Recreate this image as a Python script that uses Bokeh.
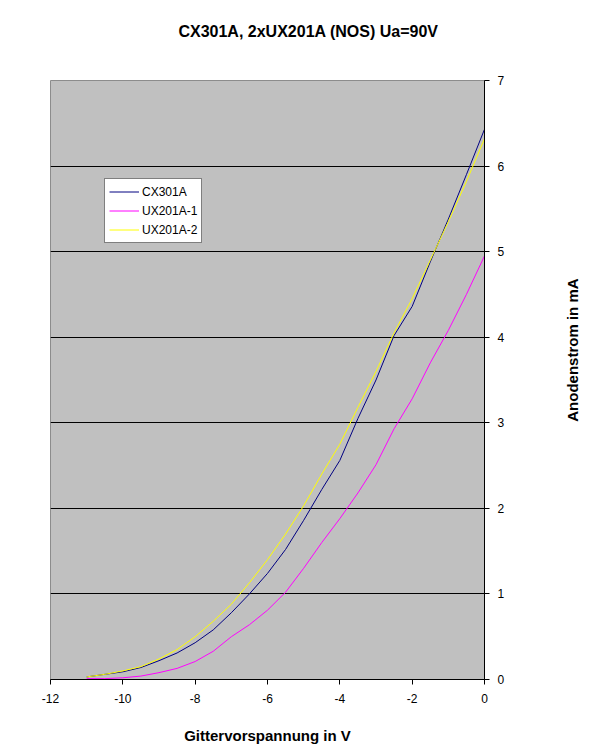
import math
from bokeh.plotting import figure
from bokeh.models import FixedTicker, Legend, LegendItem, Range1d
from bokeh.core.properties import value
from bokeh.layouts import column, row
from bokeh.embed import file_html
from bokeh.resources import INLINE

# ---- data ----
grid_v = [-11, -10.5, -10, -9.5, -9, -8.5, -8, -7.5, -7, -6.5, -6, -5.5,
          -5, -4.5, -4, -3.5, -3, -2.5, -2, -1.5, -1, -0.5, 0]
cx301a = [0.03, 0.06, 0.09, 0.14, 0.22, 0.31, 0.43, 0.58, 0.78, 1.00, 1.24, 1.52,
          1.86, 2.22, 2.56, 3.05, 3.50, 4.02, 4.36, 4.88, 5.38, 5.90, 6.43]
ux201a_1 = [0.01, 0.01, 0.02, 0.04, 0.08, 0.13, 0.21, 0.33, 0.50, 0.64, 0.81, 1.02,
            1.30, 1.60, 1.88, 2.18, 2.51, 2.93, 3.28, 3.70, 4.08, 4.50, 4.95]
ux201a_2 = [0.03, 0.06, 0.10, 0.15, 0.24, 0.35, 0.50, 0.68, 0.88, 1.13, 1.40, 1.70,
            2.03, 2.40, 2.75, 3.18, 3.60, 4.05, 4.45, 4.90, 5.35, 5.82, 6.32]
series_names = ["CX301A", "UX201A-1", "UX201A-2"]
series_colors = ["#000080", "#FF00FF", "#FFFF00"]

x_ticks = [-12, -10, -8, -6, -4, -2, 0]
x_tick_labels = ["-12", "-10", "-8", "-6", "-4", "-2", "0"]
y_ticks = [0, 1, 2, 3, 4, 5, 6, 7]
y_grid_ticks = [1, 2, 3, 4, 5, 6]

title_text = "CX301A, 2xUX201A (NOS) Ua=90V"
x_label_text = "Gittervorspannung in V"
y_label_text = "Anodenstrom in mA"

FONT = "Liberation Sans"

TITLE_H = 62
MAIN_W, MAIN_H = 524, 682
SIDE_W = 86


def text_panel(w, h):
    f = figure(width=w, height=h, min_border=0, x_range=Range1d(0, w), y_range=Range1d(0, h),
               x_axis_type=None, y_axis_type=None, title=None,
               output_backend="svg", toolbar_location=None)
    f.outline_line_color = None
    f.background_fill_color = "white"
    f.border_fill_color = "white"
    f.grid.visible = False
    return f


# ---- title strip ----
tp = text_panel(610, TITLE_H)
tp.text(x=[308], y=[TITLE_H - 31], text=[title_text], text_font=value(FONT),
        text_font_size="16px", text_font_style="bold", text_color="black",
        text_align="center", text_baseline="middle")

# ---- main chart ----
p = figure(frame_width=434, frame_height=599,
           min_border_left=50, min_border_right=MAIN_W - 50 - 434,
           min_border_top=80 - TITLE_H, min_border_bottom=MAIN_H - (80 - TITLE_H) - 599,
           x_range=Range1d(-12, 0), y_range=Range1d(0, 7),
           y_axis_location="right", title=None,
           output_backend="svg", toolbar_location=None)

p.background_fill_color = "#C0C0C0"
p.border_fill_color = "white"
p.outline_line_color = "#8C8C8C"
p.outline_line_width = 1

xa = p.xaxis[0]
xa.ticker = FixedTicker(ticks=x_ticks)
xa.major_label_overrides = {t: l for t, l in zip(x_ticks, x_tick_labels)}
ya = p.yaxis[0]
ya.ticker = FixedTicker(ticks=y_ticks)
for ax in (xa, ya):
    ax.axis_line_color = "black"
    ax.major_tick_line_color = "black"
    ax.major_tick_in = 0
    ax.major_tick_out = 5
    ax.minor_tick_line_color = None
    ax.major_label_text_font = FONT
    ax.major_label_text_font_size = "12px"
    ax.major_label_text_color = "black"
    ax.axis_label_text_font = FONT
    ax.axis_label_text_font_size = "15px"
    ax.axis_label_text_font_style = "bold"
    ax.axis_label_text_color = "black"
xa.major_label_standoff = 9
ya.major_label_standoff = 8

xa.axis_label = x_label_text
xa.axis_label_standoff = 21

p.xgrid.visible = False
p.ygrid.ticker = FixedTicker(ticks=y_grid_ticks)
p.ygrid.grid_line_color = "black"
p.ygrid.grid_line_width = 1

renderers = []
for ys, c in zip([cx301a, ux201a_1, ux201a_2], series_colors):
    r = p.line(grid_v, ys, line_color=c, line_width=1)
    renderers.append(r)

legend = Legend(items=[LegendItem(label=n, renderers=[r]) for n, r in zip(series_names, renderers)],
                location=(54, 436),
                border_line_color="black", border_line_width=1,
                background_fill_color="white", background_fill_alpha=1,
                label_text_font=FONT, label_text_font_size="12px",
                label_text_color="black",
                padding=4, spacing=2, margin=0,
                glyph_width=30, glyph_height=17, label_height=17,
                label_standoff=3)
p.add_layout(legend, "center")

# ---- y-axis title strip on the right ----
sp = text_panel(SIDE_W, MAIN_H)
sp.text(x=[572 - MAIN_W], y=[MAIN_H - (370 - TITLE_H)], text=[y_label_text],
        text_font=value(FONT), text_font_size="15px", text_font_style="bold",
        text_color="black", angle=math.pi / 2,
        text_align="center", text_baseline="middle")

layout = column(tp, row(p, sp, spacing=0), spacing=0)

open("out.html", "w").write(file_html(layout, INLINE))
